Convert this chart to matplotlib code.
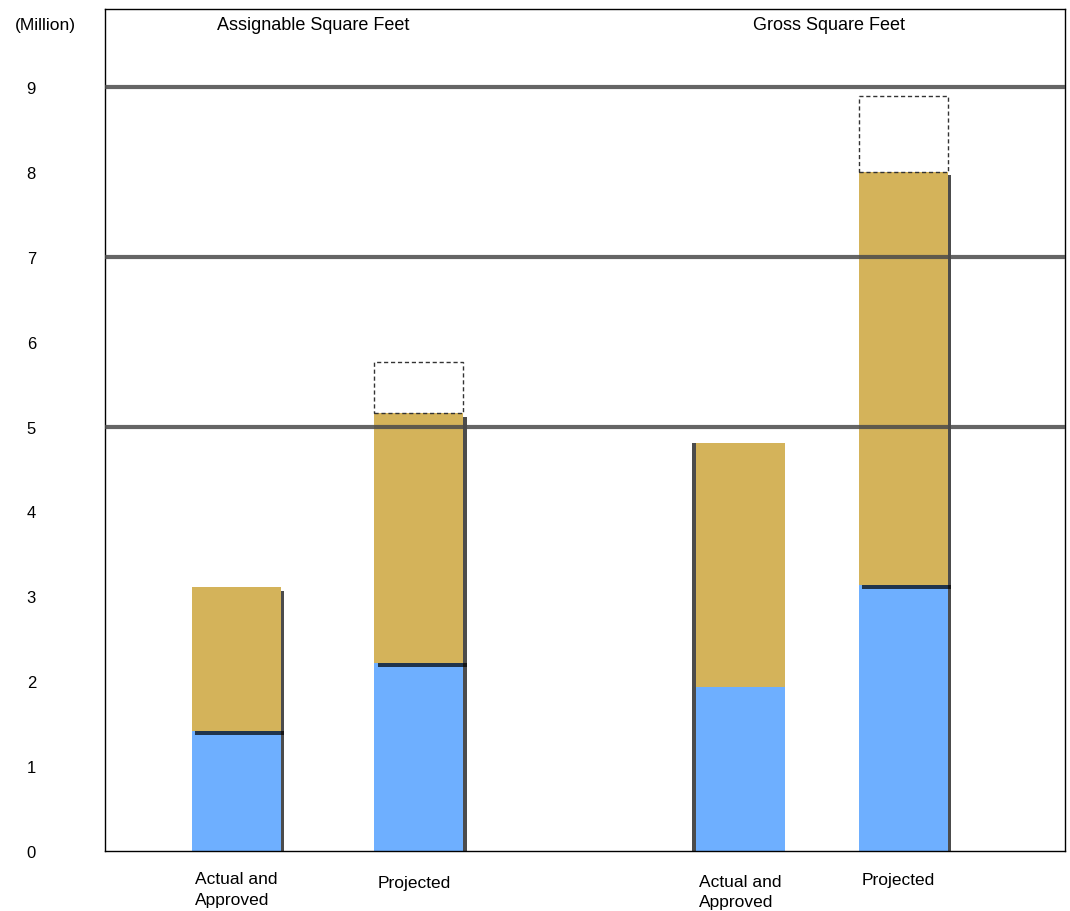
import matplotlib
matplotlib.use("Agg")

import matplotlib.pyplot as plt
import matplotlib.patheffects as pe

# Values in millions of square feet
categories = ['Actual and\nApproved', 'Projected']
groups = ['Assignable Square Feet', 'Gross Square Feet']
lower_values = [[1.41, 2.21], [1.93, 3.13]]     # blue segment
total_values = [[3.11, 5.16], [4.81, 8.00]]     # top of gold segment
projected_max = [[None, 5.76], [None, 8.89]]    # dashed outline top
y_ticks = [0, 1, 2, 3, 4, 5, 6, 7, 8, 9]
grid_values = [5, 7, 9]

blue = '#6eafff'
gold = '#d4b35a'

plt.rcParams['font.family'] = ['Liberation Sans', 'DejaVu Sans']

fig = plt.figure(figsize=(10.7, 9.12), dpi=100)
ax = fig.add_axes([0.0981, 0.0658, 0.8972, 0.9232])

# bar layout (x in axes data units, 1 unit = 100 px)
bar_x = [[1.315, 3.14], [6.355, 7.985]]
title_x = [2.08, 7.24]
label_y = [[-0.24, -0.28], [-0.27, -0.25]]
width = 0.89
shadow_side = [[1, 1], [-1, 1]]

for g in range(len(groups)):
    for i in range(len(categories)):
        x = bar_x[g][i]
        s = shadow_side[g][i]
        low = lower_values[g][i]
        tot = total_values[g][i]
        drop = -2.5 if s > 0 else 0
        ax.bar(x, low, width=width, color=blue, zorder=2,
               path_effects=[pe.SimplePatchShadow(offset=(2.5 * s, 0), shadow_rgbFace='k', alpha=0.7),
                             pe.Normal()])
        ax.bar(x, tot - low, bottom=low, width=width, color=gold, zorder=3,
               path_effects=[pe.SimplePatchShadow(offset=(2.5 * s, drop), shadow_rgbFace='k', alpha=0.7),
                             pe.Normal()])
        if projected_max[g][i] is not None:
            ax.bar(x, projected_max[g][i] - tot, bottom=tot, width=width, fill=False,
                   edgecolor='#333333', linestyle=(0, (3, 2)), linewidth=1.0, zorder=3)
        ax.text(x - width / 2 + 0.03, label_y[g][i], categories[i],
                ha='left', va='top', fontsize=12.5, linespacing=1.45)
    ax.text(title_x[g], 9.74, groups[g], ha='center', va='center', fontsize=13)

for gv in grid_values:
    ax.axhline(gv, color='#4a4a4a', linewidth=3, alpha=0.85, zorder=4)

ax.set_xlim(0, 9.6)
ax.set_ylim(0, 9.92)
ax.set_xticks([])
ax.set_yticks(y_ticks)
ax.tick_params(axis='y', length=0, pad=53, labelsize=12)
for lbl in ax.get_yticklabels():
    lbl.set_horizontalalignment('center')
fig.text(0.042, 0.972, '(Million)', ha='center', va='center', fontsize=12.5)

for sp in ['top', 'right', 'left', 'bottom']:
    ax.spines[sp].set_linewidth(1.0)

fig.savefig('out.png', dpi=100)
